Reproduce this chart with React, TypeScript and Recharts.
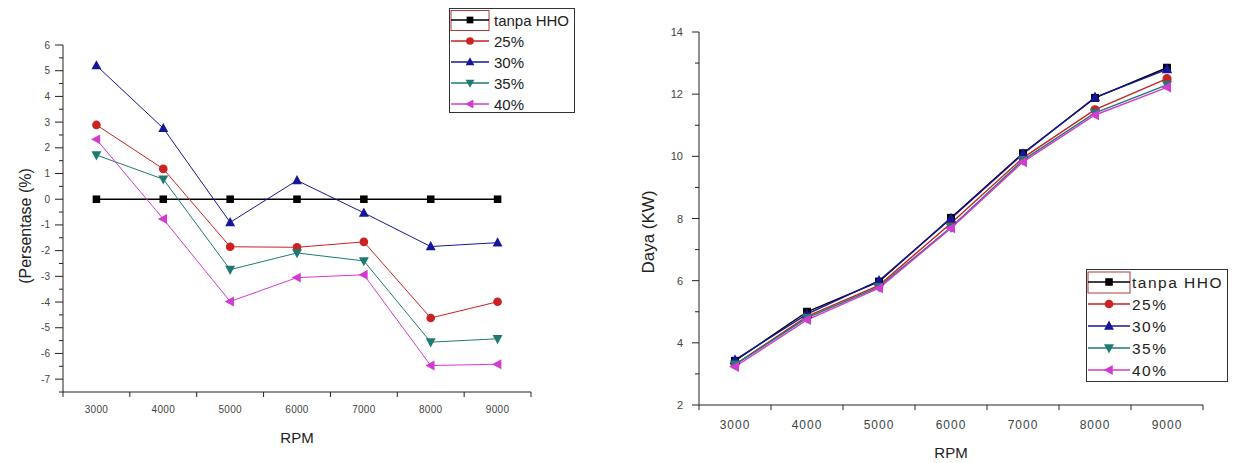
import React from "react";
import { LineChart, Line, XAxis, YAxis, Legend } from "recharts";

// RPM points on the x axis
const rpm = [3000, 4000, 5000, 6000, 7000, 8000, 9000];

// left chart: Persentase (%)
const persenTanpa = [0, 0, 0, 0, 0, 0, 0];
const persen25 = [2.89, 1.18, -1.85, -1.87, -1.66, -4.62, -3.99];
const persen30 = [5.2, 2.76, -0.9, 0.73, -0.53, -1.84, -1.69];
const persen35 = [1.72, 0.78, -2.74, -2.09, -2.4, -5.56, -5.43];
const persen40 = [2.33, -0.77, -3.98, -3.05, -2.94, -6.47, -6.42];

// right chart: Daya (KW)
const dayaTanpa = [3.42, 5.0, 5.97, 8.02, 10.1, 11.88, 12.85];
const daya25 = [3.3, 4.85, 5.85, 7.85, 9.95, 11.5, 12.5];
const daya30 = [3.45, 4.92, 6.0, 8.0, 10.08, 11.9, 12.8];
const daya35 = [3.3, 4.8, 5.8, 7.72, 9.88, 11.4, 12.3];
const daya40 = [3.23, 4.74, 5.76, 7.69, 9.82, 11.33, 12.22];

// ticks
const xTicks = [2500, 3000, 3500, 4000, 4500, 5000, 5500, 6000, 6500, 7000, 7500, 8000, 8500, 9000, 9500];
const persenTicks = [
  -7.5, -7, -6.5, -6, -5.5, -5, -4.5, -4, -3.5, -3, -2.5, -2, -1.5, -1, -0.5,
  0, 0.5, 1, 1.5, 2, 2.5, 3, 3.5, 4, 4.5, 5, 5.5, 6,
];
const dayaTicks = [2, 3, 4, 5, 6, 7, 8, 9, 10, 11, 12, 13, 14];

const seriesNames = ["tanpa HHO", "25%", "30%", "35%", "40%"];
const seriesKeys = ["tanpa", "p25", "p30", "p35", "p40"];
const seriesColors = ["#000000", "#cc2222", "#16169c", "#1f7a72", "#d23bd2"];
const seriesShapes = ["square", "circle", "triUp", "triDown", "triLeft"];

const persenRows = rpm.map((r, i) => ({
  rpm: r,
  tanpa: persenTanpa[i],
  p25: persen25[i],
  p30: persen30[i],
  p35: persen35[i],
  p40: persen40[i],
}));

const dayaRows = rpm.map((r, i) => ({
  rpm: r,
  tanpa: dayaTanpa[i],
  p25: daya25[i],
  p30: daya30[i],
  p35: daya35[i],
  p40: daya40[i],
}));

const FONT = '"Liberation Sans", Arial, sans-serif';
const AXIS = "#222";

function Marker({ cx, cy, shape, color, s }: any) {
  if (cx == null || cy == null) return null;
  if (shape === "square") {
    return <rect x={cx - s * 0.42} y={cy - s * 0.42} width={s * 0.84} height={s * 0.84} fill={color} />;
  }
  if (shape === "circle") {
    return <circle cx={cx} cy={cy} r={s * 0.48} fill={color} />;
  }
  let pts: number[][] = [];
  if (shape === "triUp") {
    pts = [[cx, cy - s * 0.6], [cx - s * 0.55, cy + s * 0.42], [cx + s * 0.55, cy + s * 0.42]];
  } else if (shape === "triDown") {
    pts = [[cx, cy + s * 0.6], [cx - s * 0.55, cy - s * 0.42], [cx + s * 0.55, cy - s * 0.42]];
  } else {
    pts = [[cx - s * 0.6, cy], [cx + s * 0.42, cy - s * 0.55], [cx + s * 0.42, cy + s * 0.55]];
  }
  return <polygon points={pts.map((p) => p.join(",")).join(" ")} fill={color} />;
}

function makeDot(i: number, s: number) {
  return (props: any) => (
    <Marker key={`d-${i}-${props.index}`} cx={props.cx} cy={props.cy} shape={seriesShapes[i]} color={seriesColors[i]} s={s} />
  );
}

function makeYTick(isMajor: (v: number) => boolean, fontSize: number, gap: number, majorLen: number) {
  return (props: any) => {
    const { x, y, payload } = props;
    const v = payload.value;
    const major = isMajor(v);
    return (
      <g>
        <line x1={x - (major ? majorLen : 4)} x2={x} y1={y} y2={y} stroke={AXIS} strokeWidth={1} />
        {major && (
          <text x={x - gap} y={y} textAnchor="end" dominantBaseline="central" fontSize={fontSize} fontFamily={FONT} fill="#444">
            {v}
          </text>
        )}
      </g>
    );
  };
}

function makeXTick(gap: number, fontSize: number, spacing: number) {
  return (props: any) => {
    const { x, y, payload } = props;
    const v = payload.value;
    if (v % 1000 !== 0) {
      return <line x1={x} x2={x} y1={y} y2={y + 5} stroke={AXIS} strokeWidth={1} />;
    }
    return (
      <text x={x} y={y + gap} textAnchor="middle" dominantBaseline="central" fontSize={fontSize} letterSpacing={spacing} fontFamily={FONT} fill="#444">
        {v}
      </text>
    );
  };
}

function makeLegend(opts: { w: number; h: number; rowY: number; rowH: number; sampleW: number; textX: number; fontSize: number; spacing: number; s: number }) {
  const { w, h, rowY, rowH, sampleW, textX, fontSize, spacing, s } = opts;
  return () => (
    <svg width={w} height={h} style={{ display: "block" }}>
      <rect x={0.5} y={0.5} width={w - 1} height={h - 1} fill="#fff" stroke="#333" strokeWidth={1} />
      <rect x={2} y={rowY - rowH / 2 + 1} width={sampleW} height={rowH - 1} fill="none" stroke="#b03a3a" strokeWidth={1} />
      {seriesNames.map((name, i) => {
        const cy = rowY + i * rowH;
        return (
          <g key={name}>
            <line x1={2} x2={2 + sampleW} y1={cy} y2={cy} stroke={seriesColors[i]} strokeWidth={1.3} />
            <Marker cx={2 + sampleW / 2} cy={cy} shape={seriesShapes[i]} color={seriesColors[i]} s={s} />
            <text x={textX} y={cy} dominantBaseline="central" fontSize={fontSize} letterSpacing={spacing} fontFamily={FONT} fill="#222">
              {name}
            </text>
          </g>
        );
      })}
    </svg>
  );
}

function yTitle(text: string, cx: number, cy: number, fontSize: number) {
  return () => (
    <text
      x={cx}
      y={cy}
      transform={`rotate(-90, ${cx}, ${cy})`}
      textAnchor="middle"
      dominantBaseline="central"
      fontSize={fontSize}
      fontFamily={FONT}
      fill="#222"
    >
      {text}
    </text>
  );
}

function xTitle(text: string, dy: number) {
  return (props: any) => {
    const vb = props.viewBox || {};
    return (
      <text x={vb.x + vb.width / 2} y={vb.y + dy} textAnchor="middle" dominantBaseline="central" fontSize={15} fontFamily={FONT} fill="#222">
        {text}
      </text>
    );
  };
}

function PersenChart() {
  return (
    <LineChart width={600} height={463} data={persenRows} margin={{ top: 45, right: 69, bottom: 21, left: 0 }}>
      <XAxis
        dataKey="rpm"
        type="number"
        domain={[2500, 9500]}
        ticks={xTicks}
        interval={0}
        tickSize={0}
        tickMargin={0}
        tickLine={false}
        height={50}
        axisLine={{ stroke: AXIS }}
        tick={makeXTick(17, 10, 0.3)}
        label={xTitle("RPM", 45)}
      />
      <YAxis
        type="number"
        domain={[-7.5, 6]}
        ticks={persenTicks}
        interval={0}
        tickSize={0}
        tickMargin={0}
        tickLine={false}
        width={63}
        axisLine={{ stroke: AXIS }}
        tick={makeYTick((v) => Number.isInteger(v), 10, 13, 8)}
        label={yTitle("(Persentase (%)", 25, 226, 16)}
      />
      <Legend
        layout="horizontal"
        verticalAlign="middle"
        align="center"
        width={126}
        height={105}
        wrapperStyle={{ left: 449, top: 8, width: 126, height: 105 }}
        content={makeLegend({ w: 126, h: 105, rowY: 12, rowH: 21, sampleW: 38, textX: 45, fontSize: 15, spacing: 0, s: 8 })}
      />
      {seriesKeys.map((k, i) => (
        <Line
          key={k}
          dataKey={k}
          name={seriesNames[i]}
          type="linear"
          stroke={seriesColors[i]}
          strokeWidth={i === 0 ? 1.6 : 1}
          dot={makeDot(i, 9)}
          activeDot={false}
          isAnimationActive={false}
        />
      ))}
    </LineChart>
  );
}

function DayaChart() {
  return (
    <LineChart width={617} height={463} data={dayaRows} margin={{ top: 32, right: 34, bottom: 0, left: 0 }}>
      <XAxis
        dataKey="rpm"
        type="number"
        domain={[2500, 9500]}
        ticks={xTicks}
        interval={0}
        tickSize={0}
        tickMargin={0}
        tickLine={false}
        height={58}
        axisLine={{ stroke: AXIS }}
        tick={makeXTick(20, 12, 1)}
        label={xTitle("RPM", 47)}
      />
      <YAxis
        type="number"
        domain={[2, 14]}
        ticks={dayaTicks}
        interval={0}
        tickSize={0}
        tickMargin={0}
        tickLine={false}
        width={79}
        axisLine={{ stroke: AXIS }}
        tick={makeYTick((v) => v % 2 === 0, 11, 16, 7)}
        label={yTitle("Daya (KW)", 28, 232, 17)}
      />
      <Legend
        layout="horizontal"
        verticalAlign="middle"
        align="center"
        width={142}
        height={113}
        wrapperStyle={{ left: 466, top: 269, width: 142, height: 113 }}
        content={makeLegend({ w: 142, h: 113, rowY: 13, rowH: 22, sampleW: 42, textX: 46, fontSize: 15.5, spacing: 1.5, s: 9 })}
      />
      {seriesKeys.map((k, i) => (
        <Line
          key={k}
          dataKey={k}
          name={seriesNames[i]}
          type="linear"
          stroke={seriesColors[i]}
          strokeWidth={1.4}
          dot={makeDot(i, 9.5)}
          activeDot={false}
          isAnimationActive={false}
        />
      ))}
    </LineChart>
  );
}

export default function App() {
  return (
    <div style={{ position: "absolute", left: 0, top: 0, width: 1237, height: 463, background: "#fff", fontFamily: FONT }}>
      <div style={{ position: "absolute", left: 0, top: 0 }}>
        <PersenChart />
      </div>
      <div style={{ position: "absolute", left: 620, top: 0 }}>
        <DayaChart />
      </div>
    </div>
  );
}
